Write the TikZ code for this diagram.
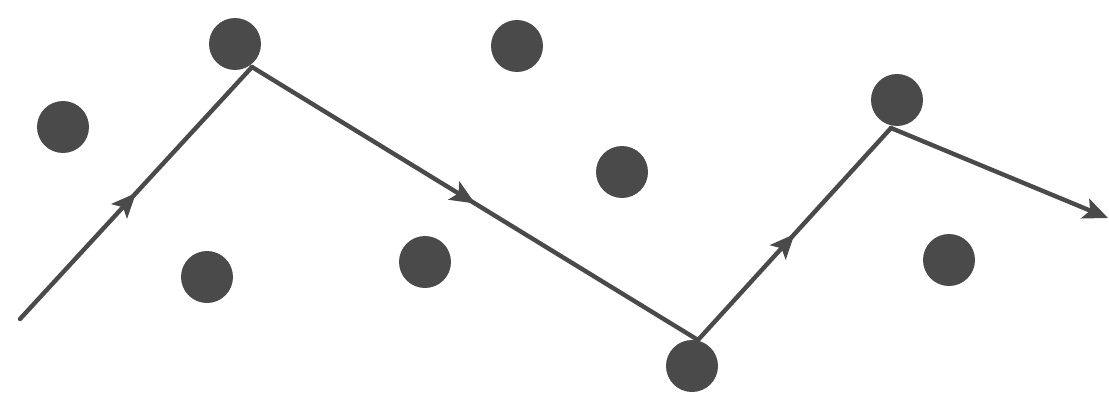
\documentclass[tikz,border=0pt]{standalone}
\usetikzlibrary{arrows.meta,decorations.markings}
\definecolor{ink}{HTML}{4A4A4A}
\begin{document}
\begin{tikzpicture}[x=0.02cm,y=-0.02cm,
  dot/.style={circle,fill=ink,draw=none,minimum size=1.04cm,inner sep=0pt},
  seg/.style={draw=ink,line width=2.5pt,line cap=round},
  midarrow/.style={postaction={decorate},decoration={markings,
     mark=at position 0.5 with {\arrow{Stealth[length=14pt,width=12pt,inset=3pt]}}}},
  endarrow/.style={-{Stealth[length=14pt,width=12pt,inset=3pt]}}]
\useasboundingbox[fill=white] (0,0) rectangle (1109,400);
\node[dot] (d1) at (63,127) {};
\node[dot] (d2) at (235,44) {};
\node[dot] (d3) at (517,46) {};
\node[dot] (d4) at (207,277) {};
\node[dot] (d5) at (425,262) {};
\node[dot] (d6) at (622,172) {};
\node[dot] (d7) at (692,366) {};
\node[dot] (d8) at (897,100) {};
\node[dot] (d9) at (949,260) {};
\coordinate (s) at (20,319);
\coordinate (v1) at (252,67);
\coordinate (v2) at (698,340);
\coordinate (v3) at (891,128);
\coordinate (e) at (1108,218);
\draw[seg,midarrow] (s) -- (v1);
\draw[seg,midarrow] (v1) -- (v2);
\draw[seg,midarrow] (v2) -- (v3);
\draw[seg,endarrow] (v3) -- (e);
\end{tikzpicture}
\end{document}
